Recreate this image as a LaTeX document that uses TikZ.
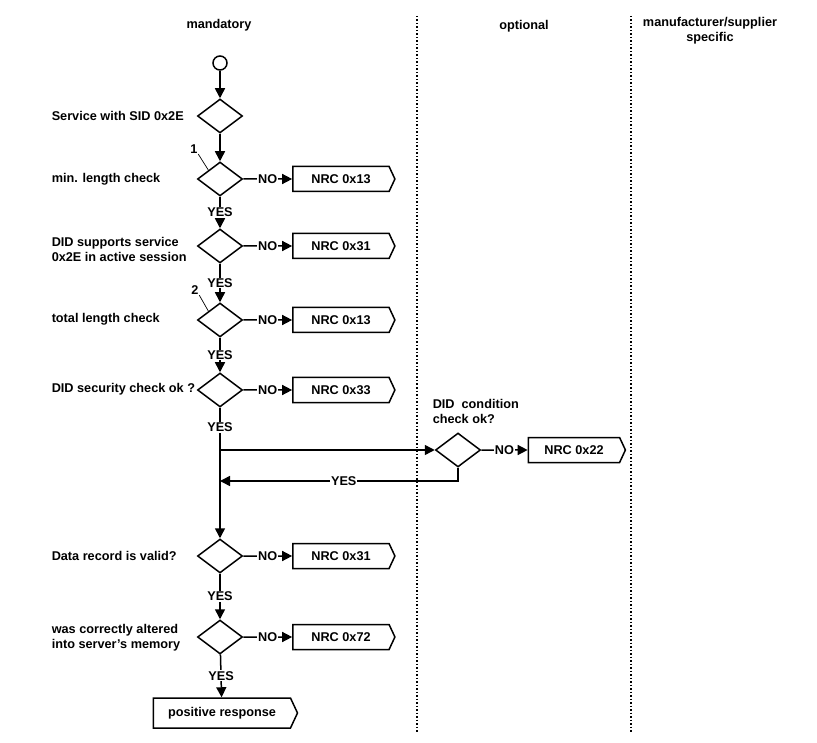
\documentclass[tikz,border=0pt]{standalone}
\usepackage{fontspec}
\setmainfont{Liberation Sans}
\usetikzlibrary{shapes.geometric, shapes.symbols, arrows.meta, calc}

\tikzset{
  check/.style={draw, diamond, aspect=1.3, minimum width=45pt, minimum height=34pt, inner sep=0pt},
  nrc/.style={draw, signal, signal to=east, signal pointer angle=130, minimum width=102pt, minimum height=25pt, inner sep=2pt},
  flow/.style={-{Triangle[length=10pt, width=10pt]}},
  lbl/.style={anchor=west, align=left, inner sep=0pt},
  yes/.style={fill=white, inner sep=1pt},
}

\begin{document}
\begin{tikzpicture}[x=1pt, y=-1pt, line width=1.5pt,
    every node/.style={font=\bfseries\fontsize{12.7}{15}\selectfont}]
			\useasboundingbox (0,0) rectangle (817,743);
			% column heads and separators
			\node (headman) at (219,25) {mandatory};
			\node (headopt) at (524,26) {optional};
			\node[align=center] (headsup) at (710,31) {manufacturer/supplier\\specific};
			\draw[dotted] (417,16) -- (417,732);
			\draw[dotted] (631,16) -- (631,732);
			% checks
			\node[circle, draw, minimum size=14pt, inner sep=0pt] (start) at (220,63) {};
			\node[check] (sid) at (220,116) {};
			\node[check] (minlen) at (220,179) {};
			\node[check] (support) at (220,246) {};
			\node[check] (totlen) at (220,320) {};
			\node[check] (secur) at (220,390) {};
			\node[check] (cond) at (458,450) {};
			\node[check] (valid) at (220,556) {};
			\node[check] (altered) at (220,637) {};
			% responses
			\node[nrc] (nrcminlen) at (341,179) {NRC 0x13};
			\node[nrc] (nrcsupport) at (341,246) {NRC 0x31};
			\node[nrc] (nrctotlen) at (341,320) {NRC 0x13};
			\node[nrc] (nrcsecur) at (341,390) {NRC 0x33};
			\node[nrc, minimum width=97pt] (nrccond) at (574,450) {NRC 0x22};
			\node[nrc] (nrcvalid) at (341,556) {NRC 0x31};
			\node[nrc] (nrcaltered) at (341,637) {NRC 0x72};
			\node[nrc, minimum width=144pt, minimum height=30pt] (posresp) at (222,713) {positive response};
			% descriptions
			\node[lbl] (txtsid) at (51,116) {Service with SID 0x2E};
			\node[lbl] (txtminlen) at (51,179) {min. length check};
			\node[lbl] (txtsupport) at (51,249.5) {DID supports service\\0x2E in active session};
			\node[lbl] (txttotlen) at (51,319) {total length check};
			\node[lbl] (txtsecur) at (51,389) {DID security check ok ?};
			\node[lbl] (txtcond) at (432,411) {DID\ \ condition\\check ok?};
			\node[lbl] (txtvalid) at (51,556) {Data record is valid?};
			\node[lbl] (txtaltered) at (51,637.5) {was correctly altered\\into server's memory};
			\node[inner sep=0pt] (markone) at (194,149) {1};
			\node[inner sep=0pt] (marktwo) at (195,290) {2};
			\draw[line width=0.7pt] (markone.south east) -- (minlen.north west);
			\draw[line width=0.7pt] (marktwo.south east) -- (totlen.north west);
			% main flow
			\draw[flow] (start) -- (sid);
			\draw[flow] (sid) -- (minlen);
			\draw[flow] (minlen) -- node[yes] {YES} (support);
			\draw[flow] (support) -- node[yes] {YES} (totlen);
			\draw[flow] (totlen) -- node[yes] {YES} (secur);
			\draw[flow] (secur) -- node[yes, pos=0.15] {YES} (valid);
			\draw[flow] (valid) -- node[yes] {YES} (altered);
			\draw[flow] (altered) -- node[yes] {YES} (posresp);
			% negative responses
			\draw[flow] (minlen) -- node[yes] {NO} (nrcminlen);
			\draw[flow] (support) -- node[yes] {NO} (nrcsupport);
			\draw[flow] (totlen) -- node[yes] {NO} (nrctotlen);
			\draw[flow] (secur) -- node[yes] {NO} (nrcsecur);
			\draw[flow] (cond) -- node[yes] {NO} (nrccond);
			\draw[flow] (valid) -- node[yes] {NO} (nrcvalid);
			\draw[flow] (altered) -- node[yes] {NO} (nrcaltered);
			% optional condition check
			\coordinate (forkout) at (220,450);
			\coordinate (forkin) at (220,481);
			\draw[flow] (forkout) -- (cond);
			\draw[flow] (cond) |- node[yes, pos=0.74] {YES} (forkin);
		\end{tikzpicture}
\end{document}
